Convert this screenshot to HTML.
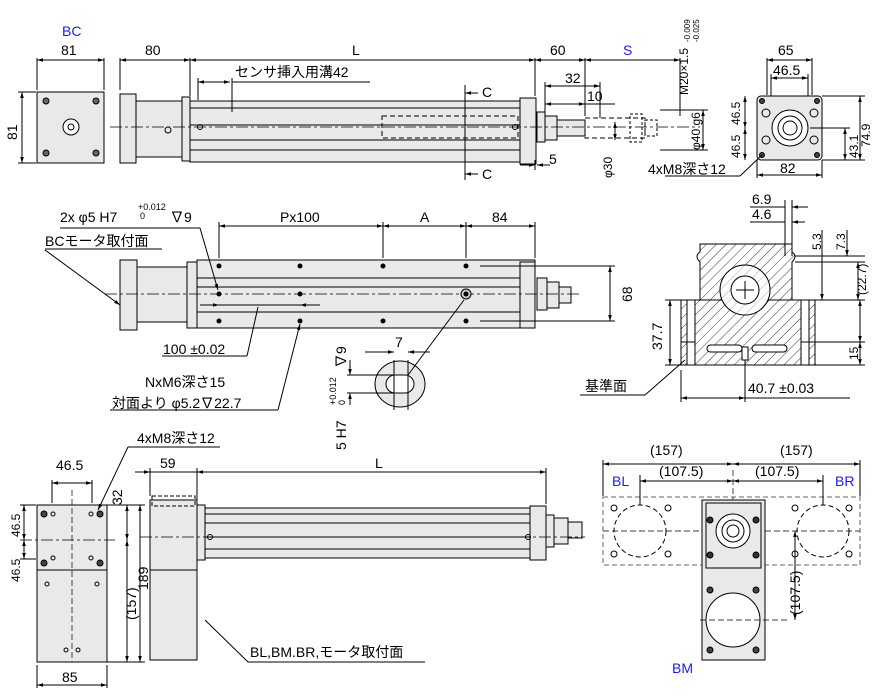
<!DOCTYPE html>
<html><head><meta charset="utf-8"><style>
html,body{margin:0;padding:0;background:#fff;width:878px;height:700px;overflow:hidden}
svg text{font-family:"Liberation Sans","Noto Sans CJK JP",sans-serif;font-size:14px;fill:#000}
.b{fill:#1a1aff}
.s{font-size:12px}
</style></head><body>
<svg width="878" height="700" viewBox="0 0 878 700" xmlns="http://www.w3.org/2000/svg">
<defs>
<marker id="a" viewBox="0 0 10 10" refX="10" refY="5" markerWidth="8" markerHeight="6" orient="auto-start-reverse"><path d="M0,2 L10,5 L0,8z" fill="#000"/></marker>
<pattern id="h" width="7" height="7" patternUnits="userSpaceOnUse" patternTransform="rotate(45)"><line x1="0" y1="0" x2="0" y2="7" stroke="#333" stroke-width="1"/></pattern>
</defs>
<g stroke="#000" stroke-width="1" fill="none">
<rect x="37" y="92" width="67" height="71" fill="#e9e9e9"/>
<circle cx="71" cy="127" r="8" fill="#fff"/><circle cx="71" cy="127" r="3"/>
<circle cx="46" cy="101" r="3" fill="#666"/><circle cx="96" cy="101" r="3" fill="#666"/>
<circle cx="46" cy="153" r="3" fill="#666"/><circle cx="96" cy="153" r="3" fill="#666"/>
<line x1="37" y1="58" x2="37" y2="90"/><line x1="104" y1="58" x2="104" y2="90"/>
<line x1="37" y1="60" x2="104" y2="60" marker-start="url(#a)" marker-end="url(#a)"/>
<line x1="18" y1="92" x2="36" y2="92"/><line x1="18" y1="163" x2="36" y2="163"/>
<line x1="22" y1="92" x2="22" y2="163" marker-start="url(#a)" marker-end="url(#a)"/>
<rect x="120" y="94" width="16" height="69" fill="#e9e9e9"/>
<rect x="136" y="101" width="46" height="56" fill="#e9e9e9"/>
<rect x="182" y="97" width="8" height="64" fill="#e9e9e9"/>
<rect x="190" y="101" width="330" height="61" fill="#e9e9e9"/>
<line x1="190" y1="108" x2="520" y2="108"/><line x1="190" y1="125" x2="520" y2="125"/><line x1="190" y1="140" x2="520" y2="140"/><line x1="190" y1="150" x2="520" y2="150"/>
<rect x="382" y="116" width="136" height="22" stroke-dasharray="5,3"/>
<rect x="520" y="98" width="16" height="66" fill="#e9e9e9"/>
<rect x="537" y="112" width="8" height="30" fill="#e9e9e9"/>
<rect x="545" y="116" width="12" height="24" fill="#e9e9e9"/>
<rect x="557" y="120" width="28" height="16" fill="#e9e9e9"/>
<rect x="585" y="118" width="60" height="20" stroke-dasharray="5,3"/>
<rect x="630" y="114" width="12" height="28" stroke-dasharray="3,2"/>
<rect x="645" y="120" width="12" height="16" stroke-dasharray="3,2"/>
<circle cx="168" cy="130" r="3"/><circle cx="200" cy="127" r="2.5"/><circle cx="515" cy="127" r="2.5"/>
<line x1="110" y1="127" x2="700" y2="127" stroke-dasharray="12,3,3,3" stroke-width="0.7"/>
<line x1="120" y1="58" x2="120" y2="90"/><line x1="190" y1="58" x2="190" y2="96"/><line x1="535" y1="58" x2="535" y2="96"/><line x1="585" y1="58" x2="585" y2="116"/><line x1="680" y1="58" x2="680" y2="116"/>
<line x1="120" y1="60" x2="190" y2="60" marker-start="url(#a)" marker-end="url(#a)"/>
<line x1="190" y1="60" x2="535" y2="60" marker-start="url(#a)" marker-end="url(#a)"/>
<line x1="535" y1="60" x2="585" y2="60" marker-start="url(#a)" marker-end="url(#a)"/>
<line x1="585" y1="60" x2="680" y2="60" marker-start="url(#a)" marker-end="url(#a)"/>
<line x1="198" y1="82" x2="230" y2="82" marker-start="url(#a)" marker-end="url(#a)"/><line x1="198" y1="78" x2="198" y2="100"/><line x1="232" y1="78" x2="232" y2="112"/><line x1="232" y1="82" x2="370" y2="82"/>
<line x1="465" y1="85" x2="465" y2="180"/><line x1="465" y1="93" x2="478" y2="93" marker-start="url(#a)"/><line x1="465" y1="174" x2="478" y2="174" marker-start="url(#a)"/>
<line x1="545" y1="86" x2="600" y2="86" marker-start="url(#a)" marker-end="url(#a)"/><line x1="545" y1="82" x2="545" y2="112"/><line x1="600" y1="82" x2="600" y2="118"/>
<line x1="545" y1="104" x2="585" y2="104" marker-start="url(#a)" marker-end="url(#a)"/><line x1="585" y1="104" x2="615" y2="104"/>
<line x1="520" y1="165" x2="535" y2="165" marker-end="url(#a)"/><line x1="537" y1="165" x2="550" y2="165" marker-start="url(#a)"/><line x1="535" y1="160" x2="535" y2="170"/>
<line x1="615" y1="122" x2="615" y2="140" marker-start="url(#a)" marker-end="url(#a)"/>
<line x1="703" y1="110" x2="703" y2="150" marker-start="url(#a)" marker-end="url(#a)"/><line x1="660" y1="110" x2="708" y2="110"/><line x1="660" y1="150" x2="708" y2="150"/>
<rect x="757" y="96" width="65" height="64" rx="4" fill="#e9e9e9"/>
<circle cx="790" cy="128" r="18" fill="#fff"/><circle cx="790" cy="128" r="12"/><circle cx="790" cy="128" r="7"/>
<circle cx="762" cy="101" r="2.5" fill="#444"/><circle cx="817" cy="101" r="2.5" fill="#444"/><circle cx="762" cy="155" r="2.5" fill="#444"/><circle cx="817" cy="155" r="2.5" fill="#444"/>
<circle cx="766" cy="113" r="4"/><circle cx="814" cy="113" r="4"/><circle cx="766" cy="140" r="4"/><circle cx="814" cy="140" r="4"/>
<line x1="767" y1="58" x2="767" y2="95"/><line x1="812" y1="58" x2="812" y2="95"/>
<line x1="767" y1="60" x2="812" y2="60" marker-start="url(#a)" marker-end="url(#a)"/>
<line x1="771" y1="78" x2="808" y2="78" marker-start="url(#a)" marker-end="url(#a)"/><line x1="771" y1="74" x2="771" y2="96"/><line x1="808" y1="74" x2="808" y2="96"/>
<line x1="757" y1="175" x2="822" y2="175" marker-start="url(#a)" marker-end="url(#a)"/><line x1="757" y1="160" x2="757" y2="178"/><line x1="822" y1="160" x2="822" y2="178"/>
<line x1="745" y1="96" x2="745" y2="128" marker-start="url(#a)" marker-end="url(#a)"/><line x1="745" y1="128" x2="745" y2="160" marker-start="url(#a)" marker-end="url(#a)"/>
<line x1="845" y1="128" x2="845" y2="160" marker-start="url(#a)" marker-end="url(#a)"/>
<line x1="860" y1="96" x2="860" y2="160" marker-start="url(#a)" marker-end="url(#a)"/>
<line x1="822" y1="96" x2="865" y2="96"/><line x1="822" y1="160" x2="865" y2="160"/><line x1="810" y1="128" x2="850" y2="128"/>
<line x1="665" y1="176" x2="740" y2="176"/><line x1="740" y1="176" x2="762" y2="155"/>
<rect x="120" y="260" width="17" height="70" fill="#e9e9e9"/>
<rect x="137" y="267" width="50" height="55" fill="#e9e9e9"/>
<rect x="187" y="262" width="10" height="66" fill="#e9e9e9"/>
<rect x="197" y="260" width="338" height="68" fill="#e9e9e9"/>
<line x1="197" y1="278" x2="520" y2="278"/><line x1="197" y1="287" x2="520" y2="287"/><line x1="197" y1="312" x2="520" y2="312"/>
<rect x="520" y="262" width="15" height="66" fill="#e9e9e9"/>
<rect x="537" y="278" width="10" height="32" fill="#e9e9e9"/><rect x="547" y="282" width="12" height="26" fill="#e9e9e9"/><rect x="559" y="287" width="12" height="16" fill="#e9e9e9"/>
<line x1="105" y1="294" x2="580" y2="294" stroke-dasharray="12,3,3,3" stroke-width="0.7"/>
<circle cx="466" cy="294" r="5" fill="#ccc"/><circle cx="466" cy="294" r="2" fill="#000"/>
<g fill="#000"><circle cx="219" cy="266" r="2"/><circle cx="300" cy="266" r="2"/><circle cx="383" cy="266" r="2"/><circle cx="466" cy="266" r="2"/>
<circle cx="219" cy="294" r="2"/><circle cx="300" cy="294" r="2"/>
<circle cx="219" cy="321" r="2"/><circle cx="300" cy="321" r="2"/><circle cx="383" cy="321" r="2"/><circle cx="466" cy="321" r="2"/></g>
<line x1="219" y1="222" x2="219" y2="258"/><line x1="383" y1="222" x2="383" y2="258"/><line x1="466" y1="222" x2="466" y2="258"/><line x1="535" y1="222" x2="535" y2="258"/>
<line x1="219" y1="226" x2="383" y2="226" marker-start="url(#a)" marker-end="url(#a)"/>
<line x1="383" y1="226" x2="466" y2="226" marker-start="url(#a)" marker-end="url(#a)"/>
<line x1="466" y1="226" x2="535" y2="226" marker-start="url(#a)" marker-end="url(#a)"/>
<line x1="200" y1="305" x2="219" y2="305" marker-end="url(#a)"/><line x1="219" y1="305" x2="300" y2="305"/><line x1="300" y1="305" x2="320" y2="305" marker-start="url(#a)"/>
<line x1="480" y1="266" x2="615" y2="266"/><line x1="480" y1="321" x2="615" y2="321"/><line x1="610" y1="266" x2="610" y2="321" marker-start="url(#a)" marker-end="url(#a)"/>
<line x1="60" y1="228" x2="200" y2="228"/><line x1="200" y1="228" x2="218" y2="290" marker-end="url(#a)"/>
<line x1="45" y1="249" x2="162" y2="249"/><line x1="45" y1="250" x2="120" y2="305" marker-end="url(#a)"/>
<line x1="162" y1="356" x2="247" y2="356"/><line x1="247" y1="356" x2="258" y2="307"/>
<line x1="110" y1="410" x2="278" y2="410"/><line x1="278" y1="410" x2="300" y2="324" marker-end="url(#a)"/>
<ellipse cx="400" cy="384" rx="25" ry="23" fill="#e9e9e9"/>
<rect x="386" y="375" width="28" height="18" rx="9" fill="#fff"/>
<line x1="394" y1="360" x2="394" y2="410"/><line x1="408" y1="360" x2="408" y2="410"/>
<line x1="365" y1="352" x2="394" y2="352" marker-end="url(#a)"/><line x1="408" y1="352" x2="430" y2="352" marker-start="url(#a)"/>
<line x1="347" y1="375" x2="398" y2="375"/><line x1="347" y1="393" x2="398" y2="393"/>
<line x1="350" y1="360" x2="350" y2="375" marker-end="url(#a)"/><line x1="350" y1="393" x2="350" y2="405" marker-start="url(#a)"/>
<line x1="408" y1="375" x2="464" y2="300"/>
<path d="M700 244 H792 V252 Q798 256 792 262 V300 H700 V262 Q694 256 700 252Z" fill="url(#h)"/>
<path d="M681 300 H815 V365 H681Z" fill="url(#h)"/>
<circle cx="745" cy="290" r="25" fill="#fff"/><circle cx="745" cy="290" r="25" fill="url(#h)" opacity="0.4"/><circle cx="745" cy="290" r="14" fill="#fff"/>
<line x1="736" y1="290" x2="754" y2="290"/><line x1="745" y1="281" x2="745" y2="299"/>
<rect x="707" y="345" width="35" height="7" rx="3.5" fill="#fff"/><rect x="752" y="345" width="35" height="7" rx="3.5" fill="#fff"/>
<rect x="742" y="347" width="6" height="13" fill="#fff"/>
<rect x="687" y="300" width="8" height="65" fill="#fff"/><rect x="801" y="300" width="8" height="65" fill="#fff"/>
<line x1="681" y1="342" x2="695" y2="342"/><line x1="801" y1="342" x2="815" y2="342"/>
<line x1="665" y1="300" x2="681" y2="300"/><line x1="665" y1="365" x2="681" y2="365"/><line x1="670" y1="300" x2="670" y2="365" marker-start="url(#a)" marker-end="url(#a)"/>
<line x1="815" y1="300" x2="865" y2="300"/><line x1="815" y1="342" x2="865" y2="342"/><line x1="815" y1="365" x2="865" y2="365"/>
<line x1="860" y1="300" x2="860" y2="342" marker-start="url(#a)" marker-end="url(#a)"/><line x1="860" y1="342" x2="860" y2="365" marker-start="url(#a)" marker-end="url(#a)"/>
<line x1="795" y1="256" x2="865" y2="256"/><line x1="795" y1="262" x2="865" y2="262"/>
<line x1="822" y1="230" x2="822" y2="300" marker-end="url(#a)"/><line x1="847" y1="230" x2="847" y2="256" marker-end="url(#a)"/><line x1="858" y1="262" x2="858" y2="300" marker-start="url(#a)" marker-end="url(#a)"/>
<line x1="785" y1="200" x2="785" y2="256"/><line x1="792" y1="200" x2="792" y2="256"/>
<line x1="750" y1="207" x2="785" y2="207"/><line x1="792" y1="207" x2="808" y2="207" marker-start="url(#a)"/>
<line x1="750" y1="222" x2="785" y2="222"/><line x1="792" y1="222" x2="805" y2="222" marker-start="url(#a)"/>
<line x1="681" y1="370" x2="681" y2="402"/><line x1="745" y1="360" x2="745" y2="402"/>
<line x1="681" y1="398" x2="745" y2="398" marker-start="url(#a)" marker-end="url(#a)"/><line x1="745" y1="398" x2="850" y2="398"/>
<line x1="580" y1="395" x2="645" y2="395"/><line x1="645" y1="395" x2="685" y2="360"/>
<rect x="37" y="505" width="70" height="65" fill="#e9e9e9"/>
<rect x="37" y="570" width="70" height="92" fill="#e9e9e9"/>
<line x1="72" y1="490" x2="72" y2="662" stroke-dasharray="6,3" stroke-width="0.7"/>
<line x1="20" y1="540" x2="115" y2="540" stroke-dasharray="12,3,3,3" stroke-width="0.7"/>
<g fill="#444"><circle cx="44" cy="514" r="3"/><circle cx="100" cy="514" r="3"/><circle cx="44" cy="563" r="3"/><circle cx="100" cy="563" r="3"/></g>
<circle cx="53" cy="514" r="2"/><circle cx="91" cy="514" r="2"/><circle cx="53" cy="558" r="2"/><circle cx="91" cy="558" r="2"/><circle cx="47" cy="584" r="2"/><circle cx="97" cy="584" r="2"/><circle cx="66" cy="650" r="2"/><circle cx="78" cy="650" r="2"/>
<line x1="52" y1="480" x2="52" y2="503"/><line x1="92" y1="480" x2="92" y2="503"/>
<line x1="52" y1="483" x2="92" y2="483" marker-start="url(#a)" marker-end="url(#a)"/>
<line x1="20" y1="505" x2="36" y2="505"/><line x1="20" y1="559" x2="36" y2="559"/>
<line x1="24" y1="505" x2="24" y2="540" marker-start="url(#a)" marker-end="url(#a)"/><line x1="24" y1="540" x2="24" y2="559" marker-start="url(#a)" marker-end="url(#a)"/>
<line x1="37" y1="665" x2="37" y2="688"/><line x1="107" y1="665" x2="107" y2="688"/>
<line x1="37" y1="685" x2="107" y2="685" marker-start="url(#a)" marker-end="url(#a)"/>
<line x1="107" y1="505" x2="145" y2="505"/><line x1="107" y1="662" x2="145" y2="662"/>
<line x1="127" y1="505" x2="127" y2="540" marker-start="url(#a)" marker-end="url(#a)"/>
<line x1="127" y1="540" x2="127" y2="662" marker-start="url(#a)" marker-end="url(#a)"/>
<line x1="140" y1="505" x2="140" y2="662" marker-start="url(#a)" marker-end="url(#a)"/>
<line x1="128" y1="447" x2="220" y2="447"/><line x1="128" y1="447" x2="98" y2="510" marker-end="url(#a)"/>
<rect x="150" y="500" width="47" height="160" fill="#e9e9e9"/>
<line x1="150" y1="570" x2="197" y2="570"/>
<rect x="152" y="496" width="43" height="10" stroke-dasharray="4,2"/>
<rect x="197" y="505" width="8" height="55" fill="#e9e9e9"/>
<rect x="205" y="508" width="325" height="50" fill="#e9e9e9"/>
<line x1="205" y1="514" x2="530" y2="514"/><line x1="205" y1="523" x2="530" y2="523"/><line x1="205" y1="537" x2="530" y2="537"/><line x1="205" y1="549" x2="530" y2="549"/>
<rect x="530" y="506" width="16" height="54" fill="#e9e9e9"/>
<rect x="546" y="515" width="8" height="32" fill="#e9e9e9"/><rect x="554" y="518" width="14" height="26" fill="#e9e9e9"/><rect x="568" y="522" width="14" height="16" fill="#e9e9e9"/>
<circle cx="210" cy="537" r="2.5"/><circle cx="528" cy="537" r="2.5"/>
<line x1="140" y1="537" x2="585" y2="537" stroke-dasharray="12,3,3,3" stroke-width="0.7"/>
<line x1="150" y1="468" x2="150" y2="496"/><line x1="197" y1="468" x2="197" y2="504"/><line x1="546" y1="468" x2="546" y2="504"/>
<line x1="135" y1="472" x2="150" y2="472" marker-end="url(#a)"/><line x1="150" y1="472" x2="197" y2="472"/>
<line x1="197" y1="472" x2="546" y2="472" marker-start="url(#a)" marker-end="url(#a)"/>
<line x1="205" y1="620" x2="248" y2="662"/><line x1="248" y1="662" x2="425" y2="662"/>
<rect x="603" y="497" width="257" height="68" fill="#fff" stroke-dasharray="5,3" stroke="#666"/>
<circle cx="640" cy="531" r="26" stroke-dasharray="5,3"/><circle cx="823" cy="531" r="26" stroke-dasharray="5,3"/>
<line x1="603" y1="531" x2="860" y2="531" stroke-dasharray="6,3" stroke-width="0.7"/>
<line x1="733" y1="470" x2="733" y2="660" stroke-dasharray="6,3" stroke-width="0.7"/>
<g><circle cx="614" cy="508" r="3"/><circle cx="668" cy="508" r="3"/><circle cx="614" cy="554" r="3"/><circle cx="668" cy="554" r="3"/>
<circle cx="795" cy="508" r="3"/><circle cx="849" cy="508" r="3"/><circle cx="795" cy="554" r="3"/><circle cx="849" cy="554" r="3"/></g>
<rect x="702" y="500" width="63" height="160" fill="#e9e9e9"/>
<rect x="706" y="503" width="55" height="65" fill="#e9e9e9"/>
<circle cx="733" cy="531" r="17" fill="#fff"/><circle cx="733" cy="531" r="11"/><circle cx="733" cy="531" r="6"/>
<g fill="#333"><circle cx="710" cy="520" r="3"/><circle cx="756" cy="520" r="3"/><circle cx="710" cy="555" r="3"/><circle cx="756" cy="555" r="3"/></g>
<circle cx="733" cy="620" r="27" fill="#fff"/>
<g fill="#444"><circle cx="710" cy="590" r="3"/><circle cx="756" cy="590" r="3"/><circle cx="710" cy="650" r="3"/><circle cx="756" cy="650" r="3"/></g>
<line x1="700" y1="620" x2="790" y2="620" stroke-dasharray="6,3" stroke-width="0.7"/>
<line x1="603" y1="460" x2="603" y2="496"/><line x1="860" y1="460" x2="860" y2="496"/><line x1="640" y1="475" x2="640" y2="505"/><line x1="823" y1="475" x2="823" y2="505"/>
<line x1="603" y1="464" x2="733" y2="464" marker-start="url(#a)" marker-end="url(#a)"/><line x1="733" y1="464" x2="860" y2="464" marker-start="url(#a)" marker-end="url(#a)"/>
<line x1="640" y1="481" x2="733" y2="481" marker-start="url(#a)" marker-end="url(#a)"/><line x1="733" y1="481" x2="823" y2="481" marker-start="url(#a)" marker-end="url(#a)"/>
<line x1="795" y1="531" x2="795" y2="620" marker-start="url(#a)" marker-end="url(#a)"/>
</g>
<text x="62" y="36" class="b">BC</text>
<text x="61" y="55">81</text><text x="145" y="55">80</text><text x="352" y="55">L</text><text x="550" y="55">60</text><text x="623" y="55" class="b">S</text>
<text transform="translate(17,140) rotate(-90)">81</text>
<text x="235" y="77">センサ挿入用溝42</text>
<text x="482" y="97">C</text><text x="482" y="179">C</text>
<text x="565" y="83">32</text><text x="587" y="101">10</text><text x="549" y="164">5</text>
<text transform="translate(612,178) rotate(-90)" class="s">φ30</text>
<text transform="translate(688,95) rotate(-90)" class="s">M20×1.5</text>
<text transform="translate(700,150) rotate(-90)" class="s">φ40 g6</text>
<text transform="translate(690,42) rotate(-90)" style="font-size:8px">-0.009</text>
<text transform="translate(699,42) rotate(-90)" style="font-size:8px">-0.025</text>
<text x="778" y="55">65</text><text x="773" y="75">46.5</text><text x="780" y="173">82</text>
<text transform="translate(740,125) rotate(-90)" class="s">46.5</text><text transform="translate(740,158) rotate(-90)" class="s">46.5</text>
<text transform="translate(858,158) rotate(-90)" class="s">43.1</text><text transform="translate(870,147) rotate(-90)" class="s">74.9</text>
<text x="648" y="174">4xM8深さ12</text>
<text x="60" y="222">2x φ5 H7</text><text x="138" y="210" style="font-size:9px">+0.012</text><text x="140" y="219" style="font-size:9px">0</text><text x="170" y="222">∇9</text>
<text x="45" y="246">BCモータ取付面</text>
<text x="280" y="222">Px100</text><text x="420" y="222">A</text><text x="492" y="222">84</text>
<text transform="translate(632,302) rotate(-90)">68</text>
<text x="163" y="354">100 ±0.02</text>
<text x="145" y="387">NxM6深さ15</text><text x="112" y="408">対面より φ5.2∇22.7</text>
<text x="395" y="347">7</text>
<text transform="translate(346,450) rotate(-90)">5 H7</text>
<text transform="translate(336,405) rotate(-90)" style="font-size:9px">+0.012</text>
<text transform="translate(345,405) rotate(-90)" style="font-size:9px">0</text>
<text transform="translate(346,368) rotate(-90)">∇9</text>
<text x="752" y="204">6.9</text><text x="752" y="219">4.6</text>
<text transform="translate(821,250) rotate(-90)" class="s">5.3</text><text transform="translate(845,250) rotate(-90)" class="s">7.3</text>
<text transform="translate(866,295) rotate(-90)" class="s">(22.7)</text>
<text transform="translate(662,350) rotate(-90)">37.7</text>
<text transform="translate(858,360) rotate(-90)" class="s">15</text>
<text x="748" y="393">40.7 ±0.03</text>
<text x="585" y="391">基準面</text>
<text x="137" y="443">4xM8深さ12</text>
<text x="56" y="470">46.5</text><text x="160" y="468">59</text><text x="375" y="468">L</text>
<text transform="translate(20,537) rotate(-90)" class="s">46.5</text><text transform="translate(20,582) rotate(-90)" class="s">46.5</text>
<text transform="translate(122,505) rotate(-90)">32</text><text transform="translate(136,620) rotate(-90)">(157)</text><text transform="translate(148,590) rotate(-90)">189</text>
<text x="62" y="682">85</text>
<text x="250" y="657">BL,BM.BR,モータ取付面</text>
<text x="650" y="455">(157)</text><text x="780" y="455">(157)</text>
<text x="659" y="476">(107.5)</text><text x="755" y="476">(107.5)</text>
<text x="612" y="486" class="b">BL</text><text x="835" y="486" class="b">BR</text><text x="672" y="673" class="b">BM</text>
<text transform="translate(800,615) rotate(-90)">(107.5)</text>
</svg>
</body></html>
